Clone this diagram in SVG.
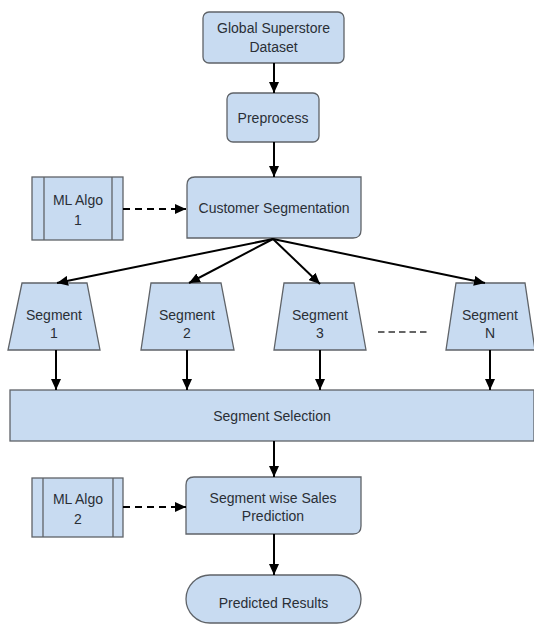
<svg xmlns="http://www.w3.org/2000/svg" width="534" height="624" viewBox="0 0 534 624">
  <style>
    .box { fill: #c8dbf1; stroke: #5f6368; stroke-width: 1.3; }
    .inner { fill: none; stroke: #5f6368; stroke-width: 1.3; }
    .lbl { font-family: "Liberation Sans", Arial, sans-serif; font-size: 14px; fill: #2a2f36; text-anchor: middle; }
    .edge { fill: none; stroke: #000; stroke-width: 2; marker-end: url(#head); }
    .dash { stroke-dasharray: 7 5; }
  </style>
  <defs>
    <marker id="head" markerUnits="userSpaceOnUse" markerWidth="12" markerHeight="10" refX="11" refY="5" orient="auto">
      <path d="M0,0 L11,5 L0,10 Z" fill="#000"/>
    </marker>
  </defs>
  <rect width="534" height="624" fill="#fff"/>

  <g id="dataset">
    <rect class="box" x="203" y="12" width="141" height="51" rx="6"/>
    <text class="lbl" x="273.5" y="33">Global Superstore</text>
    <text class="lbl" x="273.5" y="52">Dataset</text>
  </g>

  <g id="preprocess">
    <rect class="box" x="227" y="93" width="92" height="49" rx="6"/>
    <text class="lbl" x="273" y="123">Preprocess</text>
  </g>

  <g id="ml-algo-1">
    <rect class="box" x="32" y="177" width="91" height="63"/>
    <line class="inner" x1="44" y1="177" x2="44" y2="240"/>
    <line class="inner" x1="112" y1="177" x2="112" y2="240"/>
    <text class="lbl" x="78" y="205">ML Algo</text>
    <text class="lbl" x="78" y="225">1</text>
  </g>

  <g id="customer-segmentation">
    <path class="box" d="M195,177 H361 V230 Q361,238 353,238 H187 V185 Q187,177 195,177 Z"/>
    <text class="lbl" x="274" y="213">Customer Segmentation</text>
  </g>

  <g id="segment-1">
    <path class="box" d="M22,283 H87 L100,350 H8 Z"/>
    <text class="lbl" x="54" y="320">Segment</text>
    <text class="lbl" x="54" y="338">1</text>
  </g>
  <g id="segment-2">
    <path class="box" d="M151,283 H221 L234,350 H141 Z"/>
    <text class="lbl" x="187" y="320">Segment</text>
    <text class="lbl" x="187" y="338">2</text>
  </g>
  <g id="segment-3">
    <path class="box" d="M284,283 H354 L366,350 H274 Z"/>
    <text class="lbl" x="320" y="320">Segment</text>
    <text class="lbl" x="320" y="338">3</text>
  </g>
  <g id="segment-n">
    <path class="box" d="M456,283 H525 L535,350 H446 Z"/>
    <text class="lbl" x="490" y="320">Segment</text>
    <text class="lbl" x="490" y="338">N</text>
  </g>

  <g id="segment-selection">
    <rect class="box" x="10" y="390" width="524" height="51"/>
    <text class="lbl" x="272" y="421">Segment Selection</text>
  </g>

  <g id="ml-algo-2">
    <rect class="box" x="32" y="478" width="91" height="59"/>
    <line class="inner" x1="43" y1="478" x2="43" y2="537"/>
    <line class="inner" x1="113" y1="478" x2="113" y2="537"/>
    <text class="lbl" x="78" y="504">ML Algo</text>
    <text class="lbl" x="78" y="524">2</text>
  </g>

  <g id="sales-prediction">
    <path class="box" d="M194,477 H361 V526 Q361,534 353,534 H186 V485 Q186,477 194,477 Z"/>
    <text class="lbl" x="273" y="503">Segment wise Sales</text>
    <text class="lbl" x="273" y="521">Prediction</text>
  </g>

  <g id="predicted-results">
    <rect class="box" x="186" y="575" width="175" height="48" rx="24"/>
    <text class="lbl" x="273.5" y="608">Predicted Results</text>
  </g>

  <g id="connectors">
    <line class="edge" x1="274" y1="63" x2="274" y2="93"/>
    <line class="edge" x1="274" y1="142" x2="274" y2="177"/>
    <line class="edge dash" x1="123" y1="209" x2="186" y2="209"/>
    <line class="edge" x1="273" y1="239" x2="57" y2="283"/>
    <line class="edge" x1="273" y1="239" x2="189" y2="283"/>
    <line class="edge" x1="273" y1="239" x2="320" y2="284"/>
    <line class="edge" x1="273" y1="239" x2="485" y2="283"/>
    <line x1="378" y1="332" x2="427" y2="332" stroke="#333" stroke-width="1.5" stroke-dasharray="6.5 4"/>
    <line class="edge" x1="56" y1="350" x2="56" y2="390"/>
    <line class="edge" x1="187" y1="350" x2="187" y2="390"/>
    <line class="edge" x1="320" y1="350" x2="320" y2="390"/>
    <line class="edge" x1="490" y1="350" x2="490" y2="390"/>
    <line class="edge" x1="274" y1="441" x2="274" y2="477"/>
    <line class="edge dash" x1="123" y1="507" x2="186" y2="507"/>
    <line class="edge" x1="274" y1="534" x2="274" y2="575"/>
  </g>
</svg>
